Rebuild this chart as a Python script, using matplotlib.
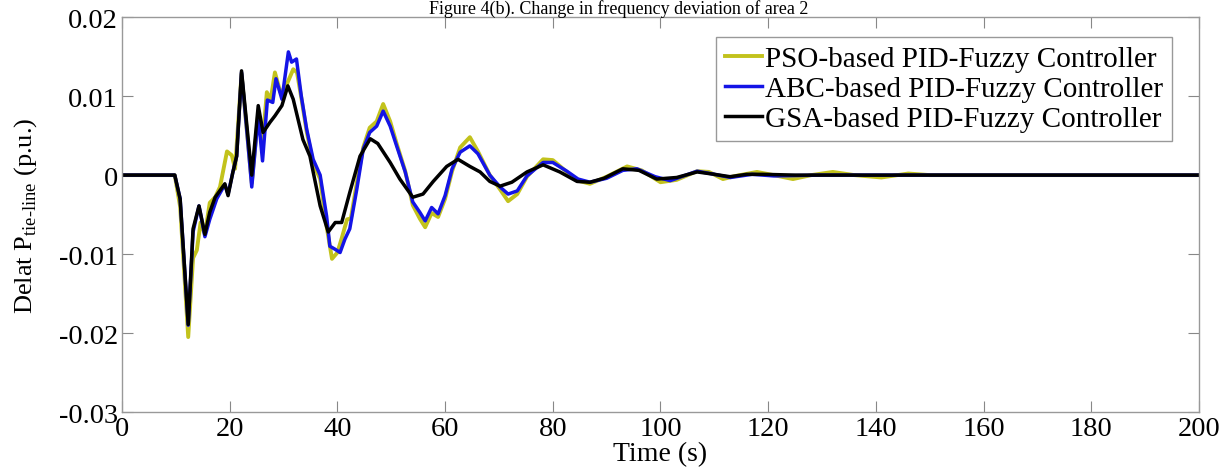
import matplotlib.pyplot as plt

plt.rcParams["font.family"] = ["Liberation Serif", "DejaVu Serif"]
plt.rcParams["mathtext.fontset"] = "custom"
plt.rcParams["mathtext.rm"] = "Liberation Serif"

# GSA-based PID-Fuzzy Controller (black)
t_gsa = [0, 9.8, 10.8, 12.3, 13.2, 14.3, 15.4, 16.3, 17.3, 19.1, 19.7, 20.6, 21.3, 22.2,
         23.2, 24.1, 25.3, 26.2, 27.5, 28.4, 29.7, 30.8, 31.8, 33.6, 34.9, 36.8, 38.3,
         39.6, 40.8, 42.3, 44.2, 46.1, 47.5, 49.8, 51.6, 54.0, 55.9, 57.8, 60.3, 62.4,
         64.6, 66.5, 68.3, 70.2, 72.4, 75.2, 78.2, 81.3, 84.5, 86.9, 89.5, 93.0, 96.0,
         99.3, 103, 106.8, 110, 112.9, 116, 119, 125, 135, 200]
v_gsa = [0, 0, -0.003, -0.0189, -0.0068, -0.0039, -0.0075, -0.0047, -0.0028, -0.0011,
         -0.0026, 0.0004, 0.0024, 0.0132, 0.0062, 0.0, 0.0088, 0.0054, 0.0067, 0.0075,
         0.0088, 0.0113, 0.0096, 0.0045, 0.0024, -0.0039, -0.0072, -0.006, -0.006,
         -0.0022, 0.0024, 0.0046, 0.004, 0.0016, -0.0005, -0.0028, -0.0024, -0.0008,
         0.0011, 0.002, 0.0011, 0.0004, -0.0008, -0.0014, -0.0009, 0.0004, 0.0013,
         0.0004, -0.0008, -0.0009, -0.0004, 0.0008, 0.0006, -0.0005, -0.0003, 0.0004,
         0.0001, -0.0002, 0.0001, 0.0001, 0, 0, 0]

# ABC-based PID-Fuzzy Controller (blue)
t_abc = [0, 9.8, 10.8, 12.3, 13.2, 14.3, 15.4, 16.3, 17.6, 19.1, 19.7, 20.6, 21.3, 22.2,
         23.2, 24.1, 25.3, 26.1, 27.0, 28.0, 28.6, 29.7, 30.9, 31.5, 32.4, 33.3, 34.3,
         35.5, 36.8, 38.0, 38.6, 39.6, 40.5, 41.4, 42.3, 43.6, 44.8, 46.0, 47.3, 48.5,
         49.8, 51.0, 52.6, 54.0, 55.3, 56.3, 57.5, 58.7, 60.0, 61.3, 62.8, 64.6, 66.1,
         68.3, 70.2, 71.7, 73.4, 75.2, 78.2, 80.0, 82.6, 84.7, 86.9, 90, 93.0, 95.6, 99,
         101.8, 106.8, 110, 113, 117, 121, 130, 200]
v_abc = [0, 0, -0.003, -0.019, -0.0072, -0.0039, -0.0078, -0.0056, -0.003, -0.0012,
         -0.0024, 0.0004, 0.0024, 0.013, 0.0055, -0.0015, 0.0075, 0.0018, 0.0095, 0.0092,
         0.0122, 0.0096, 0.0156, 0.0143, 0.0147, 0.010, 0.0058, 0.002, 0.0, -0.0052,
         -0.009, -0.0094, -0.0098, -0.0081, -0.0068, -0.0018, 0.0033, 0.0054, 0.0062,
         0.0081, 0.0062, 0.0037, 0.0004, -0.0034, -0.0047, -0.0058, -0.0041, -0.0049,
         -0.0026, 0.0008, 0.0029, 0.0037, 0.0027, 0.0, -0.0015, -0.0024, -0.002, -0.0001,
         0.0016, 0.0016, 0.0005, -0.0005, -0.0009, -0.0004, 0.0006, 0.0008, -0.0002,
         -0.0007, 0.0005, 0.0001, -0.0003, 0.0001, -0.0001, 0, 0]

# PSO-based PID-Fuzzy Controller (yellow)
t_pso = [0, 9.8, 10.8, 12.3, 13.2, 13.9, 14.6, 15.4, 16.3, 17.3, 18.2, 19.5, 20.4, 21.0,
         22.2, 23.2, 24.1, 25.3, 26.1, 26.9, 27.6, 28.4, 29.4, 30.3, 31.8, 32.5, 33.3,
         34.3, 35.5, 36.8, 38.0, 39.0, 40.0, 40.8, 41.8, 42.5, 43.6, 44.8, 46.0, 47.3,
         48.5, 49.8, 51.0, 52.6, 54.0, 55.3, 56.3, 57.5, 58.7, 60.0, 61.3, 62.8, 64.6,
         66.1, 68.3, 70.2, 71.7, 73.4, 75.2, 78.2, 80.0, 82.6, 84.7, 86.9, 90, 93.8,
         96.5, 100, 103, 106.8, 109, 111.6, 114, 117.9, 121, 124.6, 128, 132, 136, 141,
         146, 150, 200]
v_pso = [0, 0, -0.004, -0.0205, -0.0105, -0.0095, -0.006, -0.0075, -0.0035, -0.0028,
         -0.0015, 0.003, 0.0025, 0.0008, 0.0128, 0.0055, -0.001, 0.0078, 0.004, 0.0105,
         0.0095, 0.013, 0.0105, 0.011, 0.0134, 0.013, 0.0098, 0.0055, 0.0015, -0.0005,
         -0.0065, -0.0106, -0.0098, -0.008, -0.0056, -0.0055, -0.001, 0.0035, 0.006,
         0.0068, 0.009, 0.0068, 0.004, 0.0005, -0.0038, -0.0055, -0.0066, -0.0048,
         -0.0053, -0.003, 0.0005, 0.0035, 0.0048, 0.003, 0.0, -0.0018, -0.0033, -0.0024,
         -0.0002, 0.002, 0.0019, 0.0004, -0.0007, -0.0011, -0.0002, 0.0011, 0.0006,
         -0.0009, -0.0006, 0.0005, 0.0004, -0.0005, -0.0001, 0.0004, 0.0, -0.0005, 0.0,
         0.0004, 0.0, -0.0003, 0.0002, 0, 0]

labels = ["PSO-based PID-Fuzzy Controller",
          "ABC-based PID-Fuzzy Controller",
          "GSA-based PID-Fuzzy Controller"]

fig = plt.figure(figsize=(12.21, 4.77), dpi=100)
ax = fig.add_axes([0.0999, 0.134, 0.8821, 0.828])

ax.plot(t_pso, v_pso, color="#c2c21c", lw=2.8, label=labels[0])
ax.plot(t_abc, v_abc, color="#1414e6", lw=2.5, label=labels[1])
ax.plot(t_gsa, v_gsa, color="black", lw=2.5, label=labels[2])

ax.set_xlim(0, 200)
ax.set_ylim(-0.03, 0.02)
ax.set_xticks(range(0, 201, 20))
ax.set_yticks([-0.03, -0.02, -0.01, 0, 0.01, 0.02])
ax.set_yticklabels(["-0.03", "-0.02", "-0.01", "0", "0.01", "0.02"])
ax.tick_params(direction="in", length=8, width=0.8, color="#888888",
               labelsize=20.5, top=True, right=True, pad=3)
for sp in ax.spines.values():
    sp.set_color("#999999")
    sp.set_linewidth(1.0)

ax.set_xlabel("Time (s)", fontsize=20, labelpad=0)
ax.set_ylabel(r"Delat P$_{\mathrm{tie\text{-}line}}$ (p.u.)", fontsize=19, labelpad=14)

leg = ax.legend(loc="upper right", bbox_to_anchor=(0.975, 0.949), fontsize=21,
                fancybox=False, edgecolor="#999999", framealpha=1,
                handlelength=1.3, handletextpad=0.1, borderpad=0.3,
                labelspacing=0.12, borderaxespad=0)
leg.get_frame().set_linewidth(1.0)

fig.text(0.507, 1.0, "Figure 4(b). Change in frequency deviation of area 2",
         ha="center", va="top", fontsize=13)

fig.savefig("out.png", dpi=100)
